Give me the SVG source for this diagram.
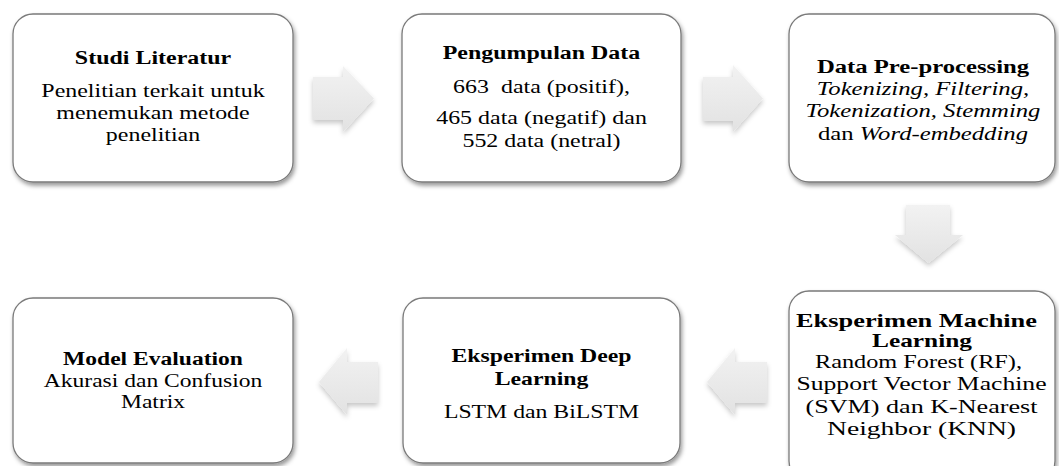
<svg xmlns="http://www.w3.org/2000/svg" width="1059" height="466" viewBox="0 0 1059 466">
<defs>
<style>
.box{fill:#ffffff;stroke:#7a7a7a;stroke-width:1.3;filter:url(#sh)}
.arr{fill:url(#ag);filter:url(#ash)}
text{font-family:"Liberation Serif","Times New Roman",serif;font-size:19px;fill:#000;text-anchor:middle}
.b{font-weight:bold}
.i{font-style:italic}
</style>
<filter id="sh" x="-10%" y="-10%" width="125%" height="130%">
<feDropShadow dx="1.5" dy="3" stdDeviation="2" flood-color="#000" flood-opacity="0.4"/>
</filter>
<filter id="ash" x="-30%" y="-30%" width="170%" height="170%">
<feDropShadow dx="0" dy="3" stdDeviation="2.5" flood-color="#000" flood-opacity="0.22"/>
</filter>
<linearGradient id="ag" x1="0" y1="0" x2="0" y2="1">
<stop offset="0" stop-color="#f2f2f2"/>
<stop offset="1" stop-color="#e2e2e2"/>
</linearGradient>
</defs>
<rect width="1059" height="466" fill="#ffffff"/>

<g id="connectors">
<polygon class="arr" points="313,77 343,77 343,66 374,98.5 343,132 343,120 313,120"/>
<polygon class="arr" points="703,77 733,77 733,65 763,98.5 733,132 733,121 703,121"/>
<polygon class="arr" points="906,205 950,205 950,235 963,235 928.5,263 895,235 906,235"/>
<polygon class="arr" points="767,362 735,362 735,348 707,382 735,415 735,403 767,403"/>
<polygon class="arr" points="378,362 347,362 347,348 319,382 347,415 347,403 378,403"/>
</g>

<g id="studi-literatur">
<rect class="box" x="13" y="14" width="280" height="168" rx="20"/>
<g transform="translate(153,0) scale(1.26,1)">
<text class="b" x="0" y="64">Studi Literatur</text>
<text x="0" y="97.5">Penelitian terkait untuk</text>
<text x="0" y="119">menemukan metode</text>
<text x="0" y="141">penelitian</text>
</g>
</g>

<g id="pengumpulan-data">
<rect class="box" x="402" y="14" width="279" height="168" rx="20"/>
<g transform="translate(541.5,0) scale(1.26,1)">
<text class="b" x="0" y="59">Pengumpulan Data</text>
<text x="0" y="93" xml:space="preserve">663  data (positif),</text>
<text x="0" y="124">465 data (negatif) dan</text>
<text x="0" y="147">552 data (netral)</text>
</g>
</g>

<g id="data-preprocessing">
<rect class="box" x="789" y="14" width="266" height="168" rx="20"/>
<g transform="translate(923,0) scale(1.3,1)">
<text class="b" x="0" y="73">Data Pre-processing</text>
<text class="i" x="0" y="95">Tokenizing, Filtering,</text>
<text class="i" x="0" y="117">Tokenization, Stemming</text>
<text x="0" y="140">dan <tspan class="i">Word-embedding</tspan></text>
</g>
</g>

<g id="eksperimen-ml">
<rect class="box" x="789" y="291" width="266" height="190" rx="20"/>
<text class="b" x="916.5" y="327" textLength="241" lengthAdjust="spacingAndGlyphs">Eksperimen Machine</text>
<text class="b" x="922" y="347" textLength="100" lengthAdjust="spacingAndGlyphs">Learning</text>
<text x="918.5" y="368" textLength="207" lengthAdjust="spacingAndGlyphs">Random Forest (RF),</text>
<text x="921.5" y="390" textLength="250" lengthAdjust="spacingAndGlyphs">Support Vector Machine</text>
<text x="921.5" y="413" textLength="232" lengthAdjust="spacingAndGlyphs">(SVM) dan K-Nearest</text>
<text x="921.5" y="435" textLength="189" lengthAdjust="spacingAndGlyphs">Neighbor (KNN)</text>
</g>

<g id="eksperimen-dl">
<rect class="box" x="403" y="298" width="277" height="165" rx="20"/>
<g transform="translate(541.5,0) scale(1.25,1)">
<text class="b" x="0" y="362">Eksperimen Deep</text>
<text class="b" x="0" y="385">Learning</text>
<text x="0" y="418">LSTM dan BiLSTM</text>
</g>
</g>

<g id="model-evaluation">
<rect class="box" x="13" y="298" width="280" height="165" rx="20"/>
<g transform="translate(153,0) scale(1.24,1)">
<text class="b" x="0" y="365">Model Evaluation</text>
<text x="0" y="387">Akurasi dan Confusion</text>
<text x="0" y="408">Matrix</text>
</g>
</g>
</svg>
